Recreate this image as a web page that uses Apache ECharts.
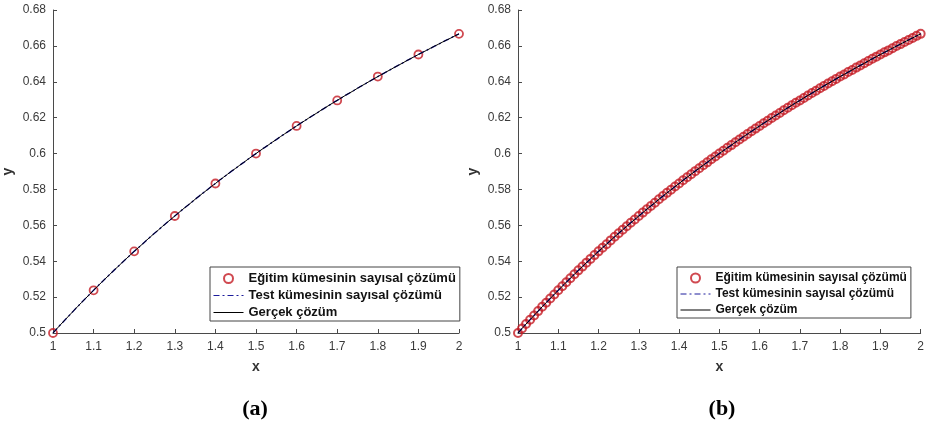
<!DOCTYPE html>
<html>
<head>
<meta charset="utf-8">
<script src="https://cdn.jsdelivr.net/npm/echarts@6/dist/echarts.min.js"></script>
<style>html,body{margin:0;padding:0;background:#fff;}#c{width:927px;height:430px;}</style>
</head>
<body>
<div id="c"></div>
<script>
// Training set points, panel (a)
var xTrainA = [1.0, 1.1, 1.2, 1.3, 1.4, 1.5, 1.6, 1.7, 1.8, 1.9, 2.0];
var yTrainA = [0.5000, 0.5238, 0.5455, 0.5652, 0.5833, 0.6000, 0.6154, 0.6296, 0.6429, 0.6552, 0.6667];

// Fine grid (panel b training points, and test / exact curves)
var xFine = [1.00,1.01,1.02,1.03,1.04,1.05,1.06,1.07,1.08,1.09,
             1.10,1.11,1.12,1.13,1.14,1.15,1.16,1.17,1.18,1.19,
             1.20,1.21,1.22,1.23,1.24,1.25,1.26,1.27,1.28,1.29,
             1.30,1.31,1.32,1.33,1.34,1.35,1.36,1.37,1.38,1.39,
             1.40,1.41,1.42,1.43,1.44,1.45,1.46,1.47,1.48,1.49,
             1.50,1.51,1.52,1.53,1.54,1.55,1.56,1.57,1.58,1.59,
             1.60,1.61,1.62,1.63,1.64,1.65,1.66,1.67,1.68,1.69,
             1.70,1.71,1.72,1.73,1.74,1.75,1.76,1.77,1.78,1.79,
             1.80,1.81,1.82,1.83,1.84,1.85,1.86,1.87,1.88,1.89,
             1.90,1.91,1.92,1.93,1.94,1.95,1.96,1.97,1.98,1.99,2.00];
var yFine = [0.5000,0.5025,0.5050,0.5074,0.5098,0.5122,0.5146,0.5169,0.5192,0.5215,
             0.5238,0.5261,0.5283,0.5305,0.5327,0.5349,0.5370,0.5392,0.5413,0.5434,
             0.5455,0.5475,0.5495,0.5516,0.5536,0.5556,0.5575,0.5595,0.5614,0.5633,
             0.5652,0.5671,0.5690,0.5708,0.5726,0.5745,0.5763,0.5781,0.5798,0.5816,
             0.5833,0.5851,0.5868,0.5885,0.5902,0.5918,0.5935,0.5951,0.5968,0.5984,
             0.6000,0.6016,0.6032,0.6047,0.6063,0.6078,0.6094,0.6109,0.6124,0.6139,
             0.6154,0.6169,0.6183,0.6198,0.6212,0.6226,0.6241,0.6255,0.6269,0.6283,
             0.6296,0.6310,0.6324,0.6337,0.6350,0.6364,0.6377,0.6390,0.6403,0.6416,
             0.6429,0.6441,0.6454,0.6466,0.6479,0.6491,0.6503,0.6516,0.6528,0.6540,
             0.6552,0.6564,0.6575,0.6587,0.6599,0.6610,0.6622,0.6633,0.6644,0.6656,0.6667];

var seriesNames = ['Eğitim kümesinin sayısal çözümü', 'Test kümesinin sayısal çözümü', 'Gerçek çözüm'];
var panelLabels = ['(a)', '(b)'];

function pairs(xs, ys) { return xs.map(function (x, i) { return [x, ys[i]]; }); }

var RED = '#c41c24', BLUE = '#1c1c9c', AXC = '#4a4a4a', TXT = '#3a3a3a';
var FONT = '"Liberation Sans", Arial, sans-serif';

function xAxisCfg(idx) {
  return {
    type: 'value', gridIndex: idx, min: 1, max: 2, interval: 0.1,
    name: 'x', nameLocation: 'middle', nameGap: 27,
    nameTextStyle: { fontFamily: FONT, fontWeight: 'bold', fontSize: 14, color: '#333' },
    axisLine: { show: true, onZero: false, lineStyle: { color: AXC, width: 1 } },
    axisTick: { show: true, inside: true, length: 4, lineStyle: { color: AXC } },
    axisLabel: { fontFamily: FONT, fontSize: 12, color: TXT, margin: 8 },
    splitLine: { show: false }
  };
}
function yAxisCfg(idx) {
  return {
    type: 'value', gridIndex: idx, min: 0.5, max: 0.68, interval: 0.02,
    name: 'y', nameLocation: 'middle', nameGap: 38, nameRotate: 90,
    nameTextStyle: { fontFamily: FONT, fontWeight: 'bold', fontSize: 14, color: '#333' },
    axisLine: { show: true, onZero: false, lineStyle: { color: AXC, width: 1 } },
    axisTick: { show: true, inside: true, length: 4, lineStyle: { color: AXC } },
    axisLabel: { fontFamily: FONT, fontSize: 12, color: TXT, margin: 7 },
    splitLine: { show: false }
  };
}

function legendCfg(left, fontSize) {
  var hidden = { color: 'transparent', borderColor: 'transparent', borderWidth: 0, opacity: 0 };
  return {
    orient: 'vertical', left: left, top: 267,
    borderColor: '#444', borderWidth: 1, borderRadius: 0,
    padding: [5, 4, 2, 3], itemGap: 4, itemWidth: 30, itemHeight: 9,
    textStyle: { fontFamily: FONT, fontWeight: 'bold', fontSize: fontSize, color: '#111' },
    backgroundColor: '#fff',
    data: [
      { name: seriesNames[0], icon: 'circle', itemStyle: { color: '#fff', borderColor: RED, borderWidth: 2 } },
      { name: seriesNames[1], itemStyle: hidden, lineStyle: { width: 1 } },
      { name: seriesNames[2], itemStyle: hidden, lineStyle: { width: 1 } }
    ],
    selectedMode: false
  };
}

function panelSeries(idx, xTrain, yTrain, size, bw) {
  return [
    { name: seriesNames[0], type: 'scatter', xAxisIndex: idx, yAxisIndex: idx,
      data: pairs(xTrain, yTrain), symbol: 'circle', symbolSize: size,
      itemStyle: { color: 'rgba(255,255,255,0)', borderColor: RED, borderWidth: bw }, z: 2 },
    { name: seriesNames[1], type: 'line', xAxisIndex: idx, yAxisIndex: idx,
      data: pairs(xFine, yFine), showSymbol: false, symbol: 'none',
      lineStyle: { color: BLUE, width: 1.4, type: [6, 3, 2, 3] }, itemStyle: { color: BLUE }, z: 3 },
    { name: seriesNames[2], type: 'line', xAxisIndex: idx, yAxisIndex: idx,
      data: pairs(xFine, yFine), showSymbol: false, symbol: 'none',
      lineStyle: { color: '#000', width: 1 }, itemStyle: { color: '#000' }, z: 4 }
  ];
}

var chart = echarts.init(document.getElementById('c'), null, { renderer: 'canvas' });
chart.setOption({
  animation: false,
  backgroundColor: '#fff',
  grid: [
    { left: 52, right: 468, top: 10, bottom: 97 },
    { left: 518, right: -2, top: 10, bottom: 97 }
  ],
  xAxis: [xAxisCfg(0), xAxisCfg(1)],
  yAxis: [yAxisCfg(0), yAxisCfg(1)],
  legend: [legendCfg(210, 13), legendCfg(677, 12)],
  series: panelSeries(0, xTrainA, yTrainA, 8, 1.8).concat(panelSeries(1, xFine, yFine, 8, 2)),
  graphic: [
    { type: 'text', x: 255, y: 409, style: { text: panelLabels[0], font: 'bold 22px "Liberation Serif", "Times New Roman", serif', textAlign: 'center', textVerticalAlign: 'middle', fill: '#000' } },
    { type: 'text', x: 722, y: 409, style: { text: panelLabels[1], font: 'bold 22px "Liberation Serif", "Times New Roman", serif', textAlign: 'center', textVerticalAlign: 'middle', fill: '#000' } }
  ]
});
</script>
</body>
</html>
